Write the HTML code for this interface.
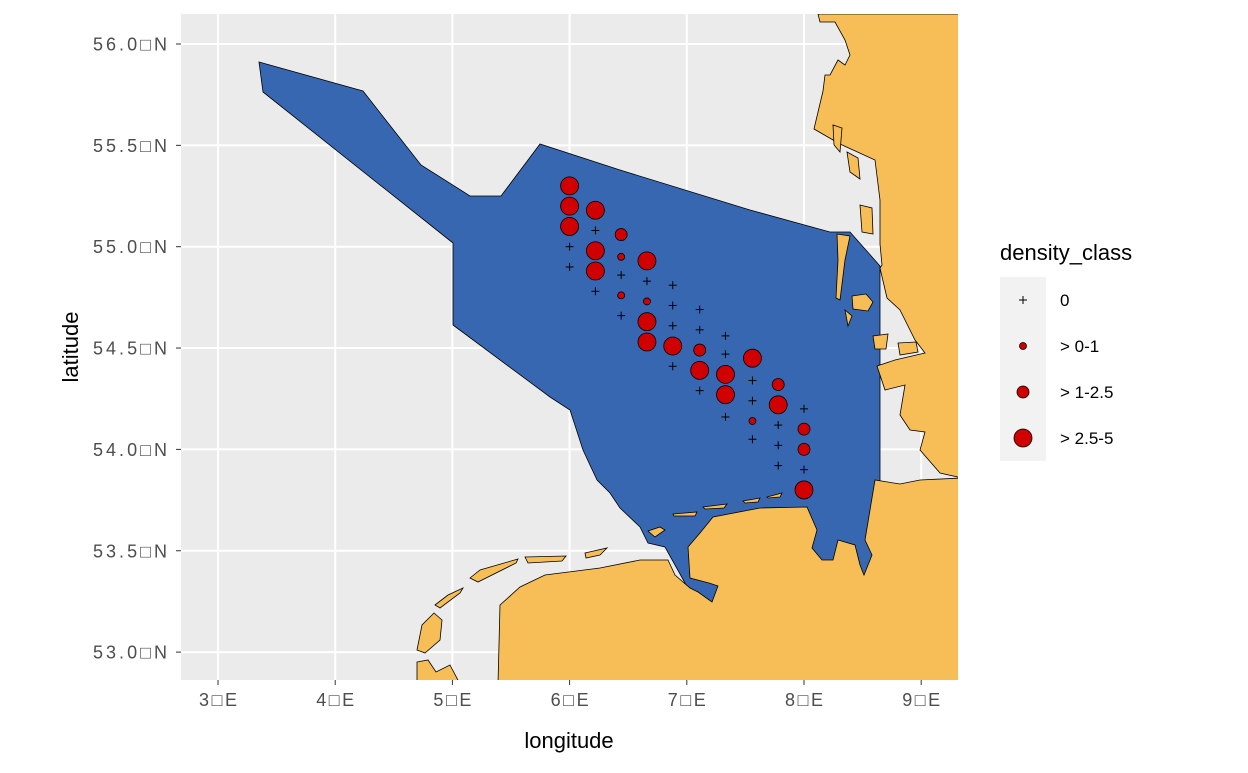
<!DOCTYPE html>
<html><head><meta charset="utf-8"><style>
body{margin:0;background:#fff;}
svg text{font-family:"Liberation Sans",sans-serif;}
</style></head><body>
<svg id="chart" width="1248" height="768" viewBox="0 0 1248 768" xmlns="http://www.w3.org/2000/svg">
<rect x="0" y="0" width="1248" height="768" fill="#fff"/>
<defs><clipPath id="pc"><rect x="181" y="14" width="777" height="666"/></clipPath></defs>
<rect x="181" y="14" width="777" height="666" fill="#EBEBEB"/>
<g id="grid"></g>
<g clip-path="url(#pc)" stroke="#000" stroke-width="0.8">
<polygon fill="#3767B1" points="259,62 363,91 421,165 470,196 501,196 540,144 620,170 750,210 830,232 850,232 880,266 880,600 700,610 665,547 648,543 640,527 620,508 610,493 597,480 583,450 570,410 550,397 453,325 453,243 263,92"/>
<g fill="#F7BE57">
<polygon points="818,14 962,14 962,478 940,473 920,450 925,432 910,430 900,415 905,385 885,390 877,366 895,360 925,353 915,340 900,310 887,298 880,268 882,265 880,244 880,200 875,160 840,144 814,129 823,91 825,75 830,75 838,60 845,65 850,55 845,40 835,22 820,22"/>
<polygon points="498,684 500,605 520,587 545,575 600,568 640,560 668,560 675,575 690,588 698,592 712,602 718,586 709,583 690,578 688,547 700,533 713,517 760,508 807,507 817,530 812,548 822,560 833,560 838,540 855,545 860,565 864,575 872,555 865,540 870,510 875,480 900,484 920,480 962,478 962,684"/>
<polygon points="837,234 850,236 845,260 840,300 836,298 838,260"/>
<polygon points="833,125 842,128 840,152 834,145"/>
<polygon points="847,152 858,158 860,179 850,172"/>
<polygon points="860,205 872,208 873,234 862,232"/>
<polygon points="852,296 866,294 873,302 868,311 853,309"/>
<polygon points="873,336 888,334 886,349 875,349"/>
<polygon points="898,343 916,342 918,352 900,355"/>
<polygon points="845,310 852,316 848,326"/>
<polygon points="470,578 480,570 518,559 516,563 478,582"/>
<polygon points="417,650 422,625 434,613 442,620 440,640 425,653"/>
<polygon points="435,605 448,595 463,588 460,593 440,608"/>
<polygon points="525,557 566,556 562,561 528,563"/>
<polygon points="585,553 607,548 600,555 586,558"/>
<polygon points="648,531 660,527 665,530 655,537"/>
<polygon points="673,514 697,512 695,516 674,516"/>
<polygon points="703,507 727,504 724,508 705,509"/>
<polygon points="743,501 760,498 758,502 745,503"/>
<polygon points="767,497 782,493 780,497 768,498"/>
<polygon points="417,662 428,660 436,672 450,665 460,684 417,684"/>
</g>
</g>
<g id="points"></g>
<g id="axes"></g>
<text x="569" y="748" font-size="22" text-anchor="middle" fill="#000">longitude</text>
<text x="78" y="347" font-size="22" text-anchor="middle" fill="#000" transform="rotate(-90 78 347)">latitude</text>
<g>
<text x="1000" y="260" font-size="22" fill="#000">density_class</text>
<rect x="1000" y="277" width="46" height="184" fill="#F2F2F2"/>
<g id="legend"></g>
</g>
</svg>
<script>
const lons=[6.0,6.0,6.0,6.0,6.0, 6.22,6.22,6.22,6.22,6.22, 6.44,6.44,6.44,6.44,6.44, 6.66,6.66,6.66,6.66,6.66, 6.88,6.88,6.88,6.88,6.88, 7.11,7.11,7.11,7.11,7.11, 7.33,7.33,7.33,7.33,7.33, 7.56,7.56,7.56,7.56,7.56, 7.78,7.78,7.78,7.78,7.78, 8.0,8.0,8.0,8.0,8.0];
const lats=[55.30,55.20,55.10,55.00,54.90, 55.18,55.08,54.98,54.88,54.78, 55.06,54.95,54.86,54.76,54.66, 54.93,54.83,54.73,54.63,54.53, 54.81,54.71,54.61,54.51,54.41, 54.69,54.59,54.49,54.39,54.29, 54.56,54.47,54.37,54.27,54.16, 54.45,54.34,54.24,54.14,54.05, 54.32,54.22,54.12,54.02,53.92, 54.20,54.10,54.00,53.90,53.80];
const classes=[3,3,3,0,0, 3,0,3,3,0, 2,1,0,1,0, 3,0,1,3,3, 0,0,0,3,0, 0,0,2,3,0, 0,0,3,3,0, 3,0,0,1,0, 2,3,0,0,0, 0,2,2,0,3];
const classLabels=["0","> 0-1","> 1-2.5","> 2.5-5"];
const xTicks=[3,4,5,6,7,8,9];
const yTicks=[53.0,53.5,54.0,54.5,55.0,55.5,56.0];
const NS="http://www.w3.org/2000/svg";
const xs=v=>218+(v-3)*117.2;
const ys=v=>44+(56-v)*202.7;
const radii=[0,3.5,6,9];
function mk(tag,attrs,parent){const e=document.createElementNS(NS,tag);for(const k in attrs)e.setAttribute(k,attrs[k]);parent.appendChild(e);return e;}
function marker(parent,cx,cy,c){
  if(c===0){
    const g=mk('g',{},parent);
    mk('line',{x1:cx-4,y1:cy,x2:cx+4,y2:cy,stroke:'#000','stroke-width':1},g);
    mk('line',{x1:cx,y1:cy-4,x2:cx,y2:cy+4,stroke:'#000','stroke-width':1},g);
    return g;
  }
  return mk('circle',{cx:cx,cy:cy,r:radii[c],fill:'#D00000',stroke:'#000','stroke-width':0.8},parent);
}
const grid=document.getElementById('grid');
xTicks.forEach(t=>{const l=mk('line',{x1:xs(t),x2:xs(t),y1:14,y2:680,stroke:'#fff','stroke-width':2},grid);

});
yTicks.forEach(t=>{const l=mk('line',{x1:181,x2:958,y1:ys(t),y2:ys(t),stroke:'#fff','stroke-width':2},grid);

});
const pts=document.getElementById('points');
lons.forEach((lo,i)=>{const m=marker(pts,xs(lo),ys(lats[i]),classes[i]);

});
const ax=document.getElementById('axes');
xTicks.forEach(t=>{
  mk('line',{x1:xs(t),x2:xs(t),y1:680,y2:685,stroke:'#333','stroke-width':1},ax);
  const tx=mk('text',{x:xs(t)-19,y:706,'font-size':18,fill:'#4D4D4D',textLength:38,lengthAdjust:'spacing'},ax);
  tx.textContent=t+'\u25A1E';
  
  
});
yTicks.forEach(t=>{
  mk('line',{x1:176,x2:181,y1:ys(t),y2:ys(t),stroke:'#333','stroke-width':1},ax);
  const tx=mk('text',{x:93,y:ys(t)+6.5,'font-size':18,fill:'#4D4D4D',textLength:74,lengthAdjust:'spacing'},ax);
  tx.textContent=t.toFixed(1)+'\u25A1N';
  
  
});
const lg=document.getElementById('legend');
classLabels.forEach((lab,i)=>{
  const cy=300+i*46;
  const m=marker(lg,1023,cy,i);
  
  
  const tx=mk('text',{x:1060,y:cy+6,'font-size':17,fill:'#000'},lg);
  tx.textContent=lab;
  
  
});
</script>
</body></html>
